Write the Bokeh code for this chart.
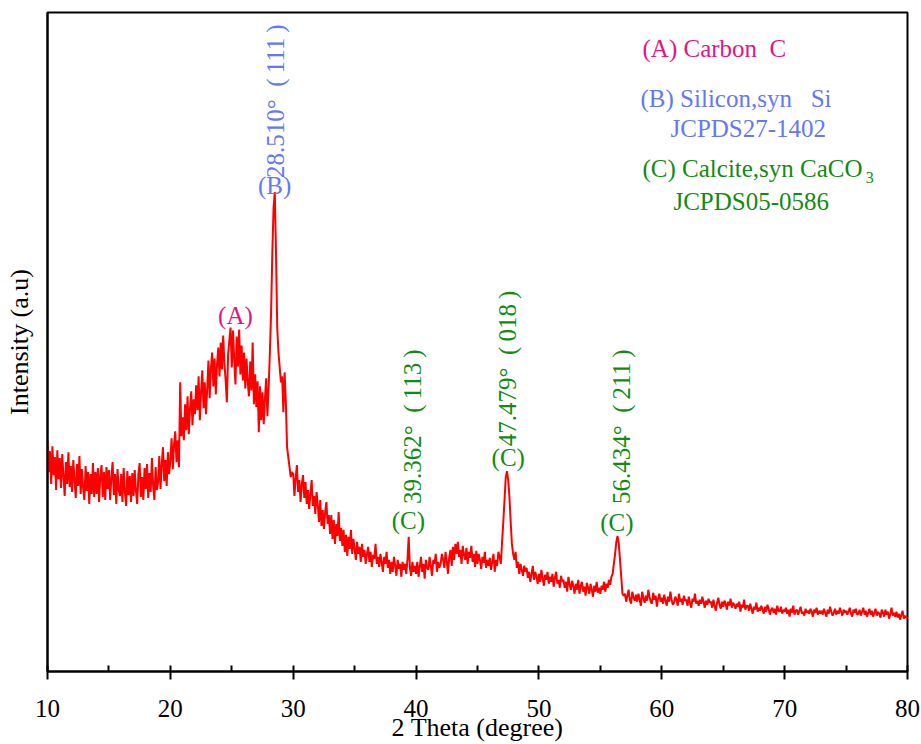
import math
from bokeh.plotting import figure
from bokeh.models import Range1d, SingleIntervalTicker, FixedTicker
from bokeh.core.properties import value
from bokeh.embed import file_html
from bokeh.resources import INLINE

# ---------------- data ----------------
two_theta_start = 10.0
two_theta_step = 0.1

intensity = [
    232, 200, 221, 188, 226, 197, 215, 182, 222, 193,  # 10
    214, 184, 218, 196, 176, 210, 188, 220, 185, 206,  # 11
    180, 212, 192, 174, 208, 186, 216, 178, 203, 184,  # 12
    172, 206, 181, 200, 168, 198, 178, 209, 175, 200,  # 13
    178, 204, 170, 197, 207, 175, 200, 172, 205, 183,  # 14
    202, 172, 195, 210, 177, 198, 168, 203, 182, 176,  # 15
    198, 170, 204, 180, 166, 201, 177, 196, 170, 199,  # 16
    176, 202, 181, 168, 198, 209, 175, 195, 172, 204,  # 17
    183, 208, 174, 199, 180, 214, 186, 172, 205, 182,  # 18
    190, 216, 183, 208, 225, 191, 212, 186, 220, 198,  # 19
    212, 234, 203, 228, 241, 210, 232, 205, 290, 236,  # 20
    255, 232, 268, 242, 276, 238, 264, 281, 247, 273,  # 21
    258, 287, 262, 296, 252, 281, 302, 264, 290, 258,  # 22
    284, 312, 274, 304, 320, 286, 314, 278, 308, 325,  # 23
    296, 330, 303, 337, 309, 292, 270, 318, 332, 345,  # 24
    305, 342, 312, 288, 336, 306, 343, 298, 327, 292,  # 25
    320, 284, 314, 290, 276, 311, 282, 330, 268, 298,  # 26
    265, 291, 240, 286, 252, 280, 248, 274, 294, 256,  # 27
    285, 320, 360, 420, 465, 481, 420, 345, 320, 305,  # 28
    290, 296, 260, 300, 270, 225, 215, 205, 195, 200,  # 29
    198, 176, 194, 207, 180, 192, 170, 188, 197, 174,  # 30
    190, 168, 182, 163, 178, 192, 166, 176, 158, 180,  # 31
    167, 150, 172, 146, 162, 143, 160, 170, 148, 157,  # 32
    138, 157, 133, 152, 128, 148, 136, 160, 131, 144,  # 33
    126, 142, 120, 137, 116, 135, 123, 142, 118, 133,  # 34
    123, 112, 130, 118, 125, 110, 128, 115, 122, 108,  # 35
    118, 125, 110, 120, 105, 117, 113, 128, 108, 115,  # 36
    105, 118, 110, 100, 115, 108, 120, 104, 112, 98,   # 37
    110, 100, 115, 106, 96, 112, 103, 108, 95, 110,    # 38
    102, 108, 98, 112, 135, 104, 96, 110, 100, 106,    # 39
    98, 110, 95, 105, 115, 100, 108, 93, 112, 104,     # 40
    102, 115, 106, 96, 112, 108, 118, 100, 110, 104,   # 41
    108, 118, 112, 104, 120, 110, 98, 115, 122, 106,   # 42
    125, 112, 128, 118, 130, 115, 122, 108, 126, 117,  # 43
    112, 124, 108, 120, 114, 126, 110, 118, 105, 121,  # 44
    108, 118, 112, 103, 115, 109, 120, 104, 112, 106,  # 45
    114, 102, 110, 118, 100, 112, 106, 120, 115, 108,  # 46
    130, 150, 172, 195, 201, 192, 175, 150, 128, 118,  # 47
    112, 120, 104, 110, 98, 108, 102, 96, 106, 100,    # 48
    104, 94, 100, 90, 98, 106, 92, 100, 95, 88,        # 49
    98, 90, 102, 94, 86, 97, 92, 100, 88, 95,          # 50
    90, 98, 85, 94, 100, 88, 92, 84, 96, 90,           # 51
    92, 84, 90, 80, 95, 87, 82, 91, 86, 78,            # 52
    88, 82, 92, 78, 86, 90, 80, 85, 76, 89,            # 53
    84, 78, 88, 82, 75, 86, 80, 90, 79, 84,            # 54
    78, 86, 82, 90, 80, 88, 84, 92, 87, 95,            # 55
    98, 108, 118, 130, 136, 128, 112, 95, 78, 76,      # 56
    78, 70, 76, 82, 72, 68, 80, 74, 71, 77,            # 57
    70, 78, 72, 66, 80, 74, 69, 76, 71, 82,            # 58
    75, 70, 68, 79, 72, 76, 65, 73, 78, 70,            # 59
    74, 68, 77, 71, 66, 75, 70, 80, 72, 67,            # 60
    69, 75, 72, 66, 78, 70, 73, 67, 76, 71,            # 61
    72, 66, 75, 69, 64, 73, 70, 78, 68, 71,            # 62
    66, 72, 68, 75, 70, 64, 71, 67, 73, 69,            # 63
    70, 64, 72, 66, 61, 69, 74, 67, 63, 70,            # 64
    65, 71, 68, 62, 70, 66, 73, 64, 69, 67,            # 65
    63, 68, 65, 70, 60, 67, 64, 72, 62, 66,            # 66
    66, 61, 68, 63, 58, 65, 62, 69, 60, 64,            # 67
    61, 66, 62, 58, 65, 60, 67, 63, 57, 62,            # 68
    64, 59, 63, 57, 66, 61, 60, 65, 58, 62,            # 69
    60, 64, 58, 62, 55, 63, 59, 66, 57, 61,            # 70
    62, 57, 61, 65, 58, 60, 56, 63, 59, 61,            # 71
    58, 63, 60, 55, 62, 59, 64, 57, 61, 58,            # 72
    61, 57, 63, 59, 55, 62, 58, 65, 60, 56,            # 73
    59, 63, 57, 61, 58, 64, 60, 56, 62, 59,            # 74
    61, 57, 60, 64, 58, 55, 62, 59, 63, 57,            # 75
    58, 62, 56, 60, 64, 57, 61, 55, 59, 63,            # 76
    57, 61, 55, 59, 63, 56, 60, 58, 54, 62,            # 77
    59, 55, 62, 57, 60, 53, 58, 64, 56, 59,            # 78
    55, 60, 54, 58, 52, 57, 61, 53, 56, 54,            # 79
    55,                                                # 80
]
two_theta = [round(two_theta_start + i * two_theta_step, 1) for i in range(len(intensity))]

# peak annotations
peak_tags = ["(A)", "(B)", "(C)", "(C)", "(C)"]
peak_pos = [25.3, 28.48, 39.38, 47.5, 56.35]
peak_tag_y = [357, 487, 151, 215, 149]
peak_tag_colors = ["#E4157F", "#6478F5", "#138A13", "#138A13", "#138A13"]

SP = "\u2002"
TH = "\u2009"
hkl = ["111", "113", "018", "211"]
angles = ["28.510°", "39.362°", "47.479°", "56.434°"]
vert_labels = [a + SP + "(" + TH + h + TH + ")" for a, h in zip(angles, hkl)]
vert_x = [28.56, 39.68, 47.45, 56.69]
vert_y = [495, 168, 226, 168]
vert_colors = ["#6478F5", "#138A13", "#138A13", "#138A13"]

NB = "\u00a0"
legend_lines = ["(A) Carbon" + NB + NB + "C", "(B) Silicon,syn" + NB + NB + NB + "Si", "JCPDS27-1402",
                "(C) Calcite,syn CaCO", "JCPDS05-0586"]
legend_x = [58.43, 58.27, 60.71, 58.43, 60.95]
legend_y = [625, 575, 545, 505, 471]
legend_colors = ["#E4157F", "#6478F5", "#6478F5", "#138A13", "#138A13"]
sub_text = ["3"]
sub_x = [76.6]
sub_y = [496]

FONT = "Liberation Serif"
FS = "25px"

p = figure(width=921, height=744, output_backend="svg", toolbar_location=None,
           x_range=Range1d(10, 80), y_range=Range1d(0, 661),
           min_border_left=47, min_border_right=14, min_border_top=12, min_border_bottom=71)
p.background_fill_color = "white"
p.border_fill_color = "white"
p.outline_line_color = "black"
p.outline_line_width = 2
p.xgrid.visible = False
p.ygrid.visible = False

p.line(two_theta, intensity, line_color="#FF0000", line_width=2)

p.text(peak_pos, peak_tag_y, text=peak_tags, text_color=peak_tag_colors,
       text_font=value(FONT), text_font_size=FS,
       text_align="center", text_baseline="middle")

p.text(vert_x, vert_y, text=vert_labels, text_color=vert_colors, angle=math.pi / 2,
       text_font=value(FONT), text_font_size=FS,
       text_align="left", text_baseline="middle")

p.text(legend_x, legend_y, text=legend_lines, text_color=legend_colors,
       text_font=value(FONT), text_font_size=FS,
       text_align="left", text_baseline="middle")
p.text(sub_x, sub_y, text=sub_text, text_color="#138A13",
       text_font=value(FONT), text_font_size="16px",
       text_align="left", text_baseline="middle")

xa = p.xaxis[0]
xa.ticker = SingleIntervalTicker(interval=10, num_minor_ticks=2)
xa.axis_line_width = 2
xa.major_tick_line_width = 2
xa.minor_tick_line_width = 2
xa.major_tick_out = 8
xa.major_tick_in = 0
xa.minor_tick_in = 6
xa.minor_tick_out = 0
xa.major_label_text_font = FONT
xa.major_label_text_font_size = FS
xa.major_label_text_color = "black"
xa.major_label_standoff = 20
xa.axis_label = "2 Theta (degree)"
xa.axis_label_text_font = FONT
xa.axis_label_text_font_size = "26px"
xa.axis_label_text_font_style = "normal"
xa.axis_label_text_color = "black"
xa.axis_label_standoff = -7

ya = p.yaxis[0]
ya.ticker = FixedTicker(ticks=[])
ya.axis_line_width = 2
ya.major_tick_out = 0
ya.major_tick_in = 0
ya.minor_tick_out = 0
ya.minor_tick_in = 0
ya.major_label_text_font_size = "0px"
ya.axis_label = "Intensity (a.u)"
ya.axis_label_text_font = FONT
ya.axis_label_text_font_size = "26px"
ya.axis_label_text_font_style = "normal"
ya.axis_label_text_color = "black"
ya.axis_label_standoff = 14

open("out.html", "w").write(file_html(p, INLINE))
